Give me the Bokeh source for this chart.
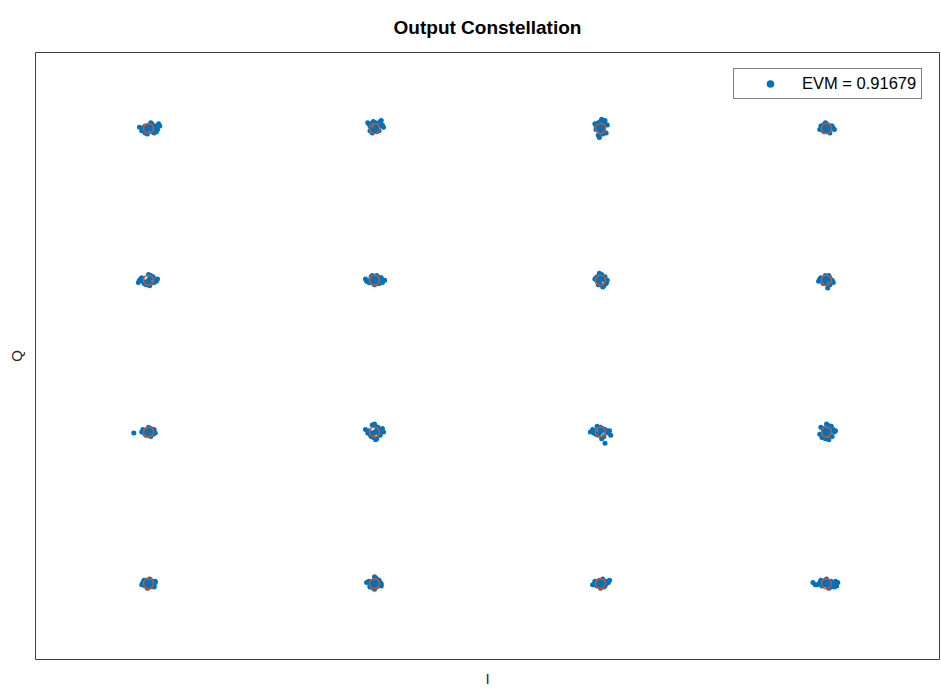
from bokeh.plotting import figure
from bokeh.models import FixedTicker, Legend, LegendItem
from bokeh.embed import file_html
from bokeh.resources import INLINE

# Ideal 16-QAM constellation points (I, Q)
ideal_i = [-3, -1, 1, 3, -3, -1, 1, 3, -3, -1, 1, 3, -3, -1, 1, 3]
ideal_q = [3, 3, 3, 3, 1, 1, 1, 1, -1, -1, -1, -1, -3, -3, -3, -3]

# Received-sample offsets from each ideal point
# (I offsets in units of 0.01, Q offsets in units of 0.015)
noise_i = [
    [0, 2, -2, 3, -3, 1, -1, 4, -4, 6, 8, 9, 5, -6, -8, 2, -1, 7, 3, -3, 0, 5, 10, -5],
    [0, 1, -2, 3, -3, 2, -1, 4, -4, -5, 5, 7, 6, -6, 1, -2, 3, 8, 0, -3, 2, -1, 4, -4],
    [0, -1, 2, -3, 1, 3, -2, -4, 4, -5, 5, 2, -1, 6, -3, 0, 1, 3, -2, 2, -4, 4, 0, -1],
    [0, 2, -2, 3, -3, 1, -1, 4, -4, 5, -5, 6, -6, 2, 0, 7, -3, 3, -1, 1, 4, -2, 5, -4],
    [0, 1, -1, 3, -3, -5, -7, -9, 4, -4, 6, 8, 2, -2, 5, -6, 0, 3, -3, 1, 7, -8, 2, 4],
    [0, 2, -2, 4, -4, 6, -6, 8, -8, 1, -1, 3, -3, 5, -5, 9, 7, -7, 2, 0, 4, -2, 6, -4],
    [0, 1, -2, 3, -3, 2, -1, 4, -4, 5, -5, 6, 0, -2, 3, 1, -1, 2, 4, -3, 5, 0, -4, 3],
    [0, 2, -2, 3, -3, 4, -4, 5, -5, 6, -6, 1, -1, 2, -7, 3, 0, -3, 4, -2, 5, -5, 1, -1],
    [0, 1, -1, 3, -3, 4, -4, -6, 5, -5, 6, 2, -2, -13, 3, -1, 1, 0, 2, -3, 4, -4, 5, -2],
    [0, 2, -2, 3, -3, 4, -4, 6, -6, 8, -8, 1, -1, 5, 0, 3, -3, 2, 7, -5, 1, 4, -2, 0],
    [0, 1, -1, 3, -3, 5, -5, 7, -7, 9, -9, 2, -2, 4, -4, 6, 0, 3, -6, 8, 1, -1, 4, -3],
    [0, 2, -2, 3, -3, 4, -4, 6, -6, 1, -1, 8, 0, 5, -5, 2, -2, 3, 7, -3, 1, 4, -1, 0],
    [0, 2, -2, 3, -3, 4, -4, 5, -5, 6, -6, 1, -1, 2, 0, 3, -3, 4, 5, -4, 1, -2, 6, -5],
    [0, 1, -2, 3, -3, 4, -4, 5, -5, -7, 6, 2, -1, 0, 3, -3, 1, 4, -2, 2, -4, 5, 0, 6],
    [0, 2, -2, 3, -3, 5, -5, 7, -7, 8, 1, -1, 4, -4, 6, -6, 0, 2, -2, 3, 5, -3, 1, 4],
    [0, 2, -2, 4, -4, 6, -6, 8, -8, 10, -10, 1, -1, 3, -3, 5, -5, 7, 9, 0, 2, -2, 4, -12],
]
noise_q = [
    [0, 1, -2, -3, 2, 3, -1, 0, 1, 2, -1, 4, -4, -2, 1, 5, -5, -3, 4, -4, 2, 1, 2, 0],
    [0, 2, -2, 1, -1, 3, -3, 2, -2, 4, 6, 3, 7, 5, 5, -4, -1, 1, 0, 4, -3, 6, -2, 2],
    [0, 3, -2, 1, -3, 2, 5, -1, 7, 4, -4, -5, -8, 3, 0, 6, 8, -3, -6, 1, 2, 4, -2, -1],
    [0, 1, -1, 2, -2, 3, -3, 1, -1, 2, 2, 0, -1, -3, 4, -1, 3, -4, 5, -2, 2, -3, 1, 0],
    [0, 1, -1, 2, -2, -1, 1, -2, 3, -3, 0, 1, 4, -4, -2, 2, 5, 3, -3, -5, -1, 0, -3, 2],
    [0, 1, -1, 2, -2, 1, -1, 0, 1, 3, -3, -3, 3, 2, -2, 0, -2, -1, 4, -4, -3, 4, 2, 0],
    [0, 2, -2, 1, -1, 3, -3, 0, 2, -2, 1, 0, 4, -4, -5, 5, 6, -6, 3, 3, -3, -4, 1, 2],
    [0, 1, -1, 2, -2, 0, 1, -1, 2, -2, 1, 3, -3, 4, -1, -4, 3, -3, -2, 2, 0, 1, -7, 4],
    [0, 1, -1, 2, -2, 0, 1, 0, -1, 2, -1, 3, -3, -1, 2, -3, 3, 4, -4, 1, -2, 0, 2, -1],
    [0, 1, -1, 3, -3, 2, -2, 1, -1, 0, 2, 5, -5, -3, 7, 4, -4, -6, 3, 1, -7, -2, 6, -1],
    [0, 1, -1, 2, -2, 0, 1, -1, 2, -3, 0, 3, -3, 2, -2, 1, 4, -4, -1, 1, -6, 3, -10, 5],
    [0, 1, -1, 3, -3, 5, -5, 2, -2, 6, -6, 1, 7, -4, 4, -7, 3, -3, 0, 2, -1, 5, 2, -2],
    [0, 1, -1, 2, -2, 0, 3, -3, 1, 2, -1, 4, -4, 3, -3, -2, 2, 1, -2, 0, -3, 3, 1, -1],
    [0, 2, -2, 1, -1, 3, -3, 0, 2, 1, -2, 4, -4, -5, 3, -1, 5, 0, 2, -3, -2, 1, 6, 0],
    [0, 1, -1, 2, -2, 0, 2, 1, -1, 3, -3, 3, -2, 1, 2, -1, -4, 4, 2, -3, 0, -1, 1, 0],
    [0, 1, -1, 2, -2, 0, 1, 2, -1, 1, -1, -2, 3, -3, 2, -2, 3, -3, -2, 4, -4, 1, -3, 1],
]
I_UNIT, Q_UNIT = 0.01, 0.015

legend_text = "EVM = 0.91679"

rx, ry = [], []
for ci, cq, di, dq in zip(ideal_i, ideal_q, noise_i, noise_q):
    for a, b in zip(di, dq):
        rx.append(ci + a * I_UNIT)
        ry.append(cq + b * Q_UNIT)

FW, FH = 904, 607
p = figure(frame_width=FW, frame_height=FH, x_range=(-4, 4), y_range=(-4, 4),
           output_backend="svg", toolbar_location=None,
           min_border_left=35, min_border_right=1, min_border_top=52, min_border_bottom=24,
           title="Output Constellation")

p.title.align = "center"
p.title.text_font = "Liberation Sans"
p.title.text_font_size = "19px"
p.title.text_font_style = "bold"
p.title.text_color = "#000000"
p.title.standoff = 29

p.xgrid.visible = False
p.ygrid.visible = False
p.outline_line_color = "#404040"
p.outline_line_width = 1

for ax in (p.xaxis[0], p.yaxis[0]):
    ax.ticker = FixedTicker(ticks=[])
    ax.axis_line_color = None
    ax.major_tick_line_color = None
    ax.minor_tick_line_color = None
    ax.axis_label_text_font = "Liberation Sans"
    ax.axis_label_text_font_size = "15px"
    ax.axis_label_text_font_style = "normal"
    ax.axis_label_text_color = "#262626"
p.xaxis.axis_label_standoff = 10
p.yaxis.axis_label_standoff = 11
p.xaxis.axis_label = "I"
p.yaxis.axis_label = "Q"

# small-point underlay of the same samples (used for the legend marker)
leg_r = p.scatter(rx, ry, size=3.5, color="#0072BD", line_color=None)
p.scatter(rx, ry, size=5, color="#0072BD", line_color=None)
p.scatter(ideal_i, ideal_q, size=10, fill_color=None, line_color="#D95319", line_width=1.5)

legend = Legend(items=[LegendItem(label=legend_text, renderers=[leg_r])],
                location=(FW - 12 - 194, FH - 18 - 29))
legend.label_text_font = "Liberation Sans"
legend.label_text_font_size = "16.5px"
legend.label_text_color = "#000000"
legend.border_line_color = "#000000"
legend.border_line_width = 1
legend.padding = 5
legend.glyph_width = 62
legend.label_standoff = 1
legend.label_height = 19
legend.glyph_height = 19
legend.margin = 0
p.add_layout(legend)

open("out.html", "w").write(file_html(p, INLINE))
